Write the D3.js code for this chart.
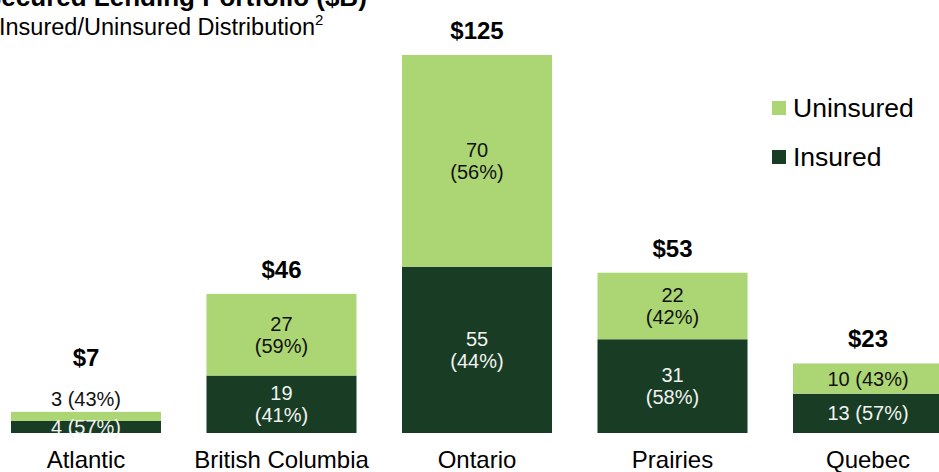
<!DOCTYPE html>
<html>
<head>
<meta charset="utf-8">
<script src="https://cdn.jsdelivr.net/npm/d3@7"></script>
<style>
  body { margin: 0; background: #fff; }
  svg { display: block; font-family: "Liberation Sans", Arial, sans-serif; }
</style>
</head>
<body>
<script>
// chart values
var regions = ["Atlantic", "British Columbia", "Ontario", "Prairies", "Quebec"];
var insured = [4, 19, 55, 31, 13];
var uninsured = [3, 27, 70, 22, 10];
var insuredPct = [57, 41, 44, 58, 57];
var uninsuredPct = [43, 59, 56, 42, 43];
var seriesNames = ["Uninsured", "Insured"];

var width = 939, height = 472;
var lightGreen = "#acd574", darkGreen = "#183d24";
var baseY = 433;

var svg = d3.select("body").append("svg")
    .attr("width", width)
    .attr("height", height);

// title is partly cut off at the top-left in the original
svg.append("text")
    .attr("x", -16).attr("y", 6)
    .attr("font-size", 26).attr("font-weight", "bold")
    .text("Secured Lending Portfolio ($B)");

var sub = svg.append("text")
    .attr("x", -1).attr("y", 35)
    .attr("font-size", 23.5);
sub.append("tspan").text("Insured/Uninsured Distribution");
sub.append("tspan").attr("font-size", 15).attr("dy", -10).text("2");

var x = d3.scaleBand()
    .domain(regions)
    .range([-11.75, 965.75])
    .paddingInner(0.2327)
    .paddingOuter(0.1163);

var y = d3.scaleLinear()
    .domain([0, 125])
    .range([baseY, 55]);

var data = regions.map(function(r, i) {
    return {
        region: r,
        ins: insured[i], unins: uninsured[i],
        insPct: insuredPct[i], uninsPct: uninsuredPct[i],
        total: insured[i] + uninsured[i]
    };
});

var g = svg.selectAll("g.bar")
    .data(data)
    .enter().append("g")
    .attr("class", "bar");

// insured (bottom)
g.append("rect")
    .attr("x", function(d){ return x(d.region); })
    .attr("width", x.bandwidth())
    .attr("y", function(d){ return y(d.ins); })
    .attr("height", function(d){ return y(0) - y(d.ins); })
    .attr("fill", darkGreen);

// uninsured (top)
g.append("rect")
    .attr("x", function(d){ return x(d.region); })
    .attr("width", x.bandwidth())
    .attr("y", function(d){ return y(d.total); })
    .attr("height", function(d){ return y(d.ins) - y(d.total); })
    .attr("fill", lightGreen);

// uninsured labels
g.each(function(d) {
    var t = d3.select(this);
    var cx = x(d.region) + x.bandwidth() / 2;
    var y0 = y(d.total), y1 = y(d.ins);
    var h = y1 - y0;
    var txt = t.append("text")
        .attr("text-anchor", "middle")
        .attr("font-size", 20)
        .attr("fill", "#111");
    if (h < 20) {
        // too thin: put it above the bar
        txt.attr("x", cx).attr("y", y0 - 6)
            .text(d.unins + " (" + d.uninsPct + "%)");
    } else if (h < 50) {
        txt.attr("x", cx).attr("y", (y0 + y1) / 2 + 7)
            .text(d.unins + " (" + d.uninsPct + "%)");
    } else {
        txt.append("tspan").attr("x", cx).attr("y", (y0 + y1) / 2 - 4).text(d.unins);
        txt.append("tspan").attr("x", cx).attr("y", (y0 + y1) / 2 + 18).text("(" + d.uninsPct + "%)");
    }
});

// insured labels: thin ones stay inside (white on white below the bar)
g.each(function(d) {
    var t = d3.select(this);
    var cx = x(d.region) + x.bandwidth() / 2;
    var y0 = y(d.ins), y1 = y(0);
    var h = y1 - y0;
    var txt = t.append("text")
        .attr("text-anchor", "middle")
        .attr("font-size", 20)
        .attr("fill", "#f2f2f2");
    if (h < 50) {
        txt.attr("x", cx).attr("y", (y0 + y1) / 2 + 7)
            .text(d.ins + " (" + d.insPct + "%)");
    } else {
        txt.append("tspan").attr("x", cx).attr("y", (y0 + y1) / 2 - 4).text(d.ins);
        txt.append("tspan").attr("x", cx).attr("y", (y0 + y1) / 2 + 18).text("(" + d.insPct + "%)");
    }
});

// totals
g.append("text")
    .attr("text-anchor", "middle")
    .attr("font-size", 24).attr("font-weight", "bold")
    .attr("x", function(d){ return x(d.region) + x.bandwidth() / 2; })
    .attr("y", function(d){
        var top = y(d.total);
        var thin = (y(d.ins) - top) < 20;
        return top - (thin ? 46 : 16);
    })
    .text(function(d){ return "$" + d.total; });

// category axis labels
g.append("text")
    .attr("text-anchor", "middle")
    .attr("font-size", 24)
    .attr("x", function(d){ return x(d.region) + x.bandwidth() / 2; })
    .attr("y", 468)
    .text(function(d){ return d.region; });

// legend
var legend = svg.selectAll("g.legend")
    .data(seriesNames)
    .enter().append("g")
    .attr("class", "legend")
    .attr("transform", function(d, i){ return "translate(772," + (101 + i * 49) + ")"; });

legend.append("rect")
    .attr("width", 14).attr("height", 14)
    .attr("fill", function(d){ return d == "Uninsured" ? lightGreen : darkGreen; });

legend.append("text")
    .attr("x", 21).attr("y", 16)
    .attr("font-size", 26.5)
    .text(function(d){ return d; });
</script>
</body>
</html>
